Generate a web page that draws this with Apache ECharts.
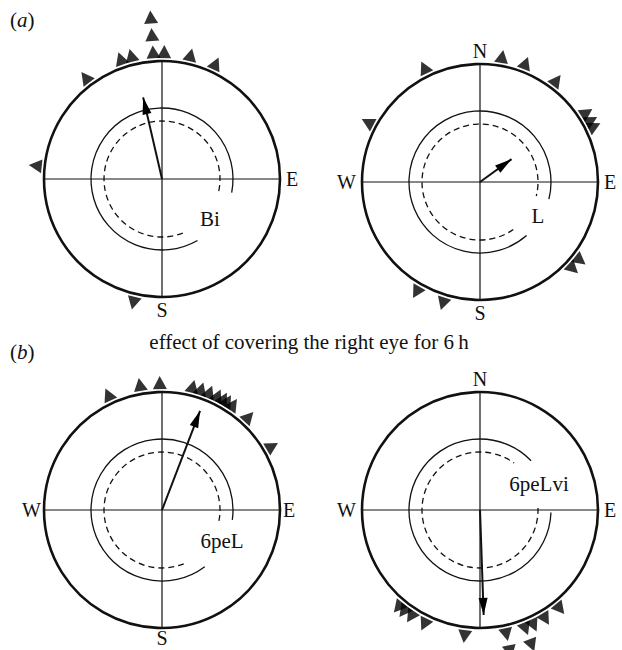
<!DOCTYPE html>
<html>
<head>
<meta charset="utf-8">
<script src="https://cdn.jsdelivr.net/npm/echarts@6/dist/echarts.min.js"></script>
<style>
  html, body { margin: 0; padding: 0; background: #fff; }
  #chart { width: 622px; height: 650px; }
</style>
</head>
<body>
<div id="chart"></div>
<script>
// headings of single birds, degrees clockwise from N (equal values are stacked outward)
const headingsBi = [193, 276, 323, 341, 346, 356, 356, 356, 1, 13, 25]
const headingsL = [10, 21, 37, 57, 61, 64, 128, 133, 197, 210, 298, 334]
const headings6peL = [335, 350, 359, 14, 18, 22, 26, 29, 31, 34, 43, 60]
const headings6peLvi = [141, 149, 155, 159, 159, 168, 168, 187, 206, 213, 217, 220]

// mean vector of each group: direction (deg) and length r
const meanDir = [347, 54, 21, 178]
const meanLen = [0.71, 0.33, 0.90, 0.89]

const groupNames = ['Bi', 'L', '6peL', '6peLvi']
// compass letters at 0, 90, 180, 270
const compassLabels = [
  ['', 'E', 'S', ''],
  ['N', 'E', 'S', 'W'],
  ['', 'E', 'S', 'W'],
  ['N', 'E', '', 'W']
]
const caption = 'effect of covering the right eye for 6\u2009h'

const FONT = 'Liberation Serif'
const INK = '#111'
const R = 118

// layout: centre, gaps of the two inner circles (start/end bearing, clockwise), label spot
const panels = [
  { cx: 162, cy: 179, heads: headingsBi, solid: [150, 461], dashed: [159, 464], text: [210, 219], margin: 6 },
  { cx: 480, cy: 182, heads: headingsL, solid: [139, 464], dashed: [145, 464], text: [538, 216], margin: 6 },
  { cx: 162, cy: 510, heads: headings6peL, solid: [143, 458], dashed: [158, 461], text: [222, 541], margin: 3 },
  { cx: 480, cy: 510, heads: headings6peLvi, solid: [92, 406], dashed: [88, 396], text: [539, 484], margin: 6 }
]

const polar = []
const angleAxis = []
const radiusAxis = []
const series = []

panels.forEach((p, i) => {
  const base = polar.length
  // outer circle with cross
  polar.push({ center: [p.cx, p.cy], radius: R })
  angleAxis.push({
    polarIndex: base, type: 'value', min: 0, max: 360, interval: 90,
    startAngle: 90, clockwise: true,
    axisLine: { lineStyle: { color: INK, width: 2.6 } },
    axisTick: { show: false },
    splitLine: { show: true, lineStyle: { color: INK, width: 1.2 } },
    axisLabel: {
      margin: p.margin, color: INK, fontFamily: FONT, fontSize: 20, lineHeight: 14,
      formatter: v => (v < 360 ? compassLabels[i][v / 90] : '')
    }
  })
  radiusAxis.push({ polarIndex: base, min: 0, max: 1, show: false })

  // inner circles, open where the label sits
  const arcs = [[p.solid, 'solid', 71], [p.dashed, [6, 4], 58]]
  arcs.forEach(([span, type, r], k) => {
    polar.push({ center: [p.cx, p.cy], radius: r })
    angleAxis.push({
      polarIndex: base + k + 1, type: 'value', min: 0, max: 360,
      startAngle: 90 - span[0], endAngle: 90 - span[1], clockwise: true,
      axisLine: { lineStyle: { color: INK, width: 1.3, type: type } },
      axisTick: { show: false }, axisLabel: { show: false }, splitLine: { show: false }
    })
    radiusAxis.push({ polarIndex: base + k + 1, min: 0, max: 1, show: false })
  })

  // birds, stacked when headings repeat
  const seen = {}
  const birds = p.heads.map(h => {
    const lvl = seen[h] || 0
    seen[h] = lvl + 1
    return { value: [1.08 + 0.148 * lvl, h], symbolRotate: -h }
  })
  series.push({
    type: 'scatter', coordinateSystem: 'polar', polarIndex: base,
    symbol: 'triangle', symbolSize: [14, 13], clip: false, silent: true,
    itemStyle: { color: '#000' }, data: birds
  })

  // mean vector arrow
  const d = meanDir[i]
  const rad = d * Math.PI / 180
  const head = 17
  series.push({
    type: 'line', coordinateSystem: 'polar', polarIndex: base,
    clip: false, silent: true, showSymbol: true,
    lineStyle: { color: INK, width: 2 }, itemStyle: { color: '#000' },
    data: [
      { value: [0, d], symbol: 'none' },
      {
        value: [meanLen[i], d], symbol: 'triangle', symbolSize: [9, head],
        symbolRotate: -d,
        symbolOffset: [-Math.sin(rad) * head / 2, Math.cos(rad) * head / 2]
      }
    ]
  })
})

const textStyle = (t, x, y, align) => ({
  type: 'text', silent: true,
  style: {
    text: t, x: x, y: y, fill: INK, font: '21px "' + FONT + '"',
    align: align, verticalAlign: 'middle', textAlign: align, textVerticalAlign: 'middle'
  }
})

const panelTag = (letter, y) => ({
  type: 'text', silent: true,
  style: {
    text: '{p|(}{i|' + letter + '}{p|)}', x: 10, y: y,
    align: 'left', verticalAlign: 'middle', textAlign: 'left', textVerticalAlign: 'middle',
    rich: {
      p: { fontFamily: FONT, fontSize: 21, fill: INK, color: INK },
      i: { fontFamily: FONT, fontSize: 21, fontStyle: 'italic', fill: INK, color: INK }
    }
  }
})

const graphic = [
  panelTag('a', 20),
  panelTag('b', 352),
  textStyle(caption, 309, 342, 'center')
].concat(panels.map((p, i) => textStyle(groupNames[i], p.text[0], p.text[1], 'center')))

const chart = echarts.init(document.getElementById('chart'), null, { renderer: 'svg' })
chart.setOption({
  backgroundColor: '#fff',
  animation: false,
  polar: polar,
  angleAxis: angleAxis,
  radiusAxis: radiusAxis,
  series: series,
  graphic: graphic
})
</script>
</body>
</html>
